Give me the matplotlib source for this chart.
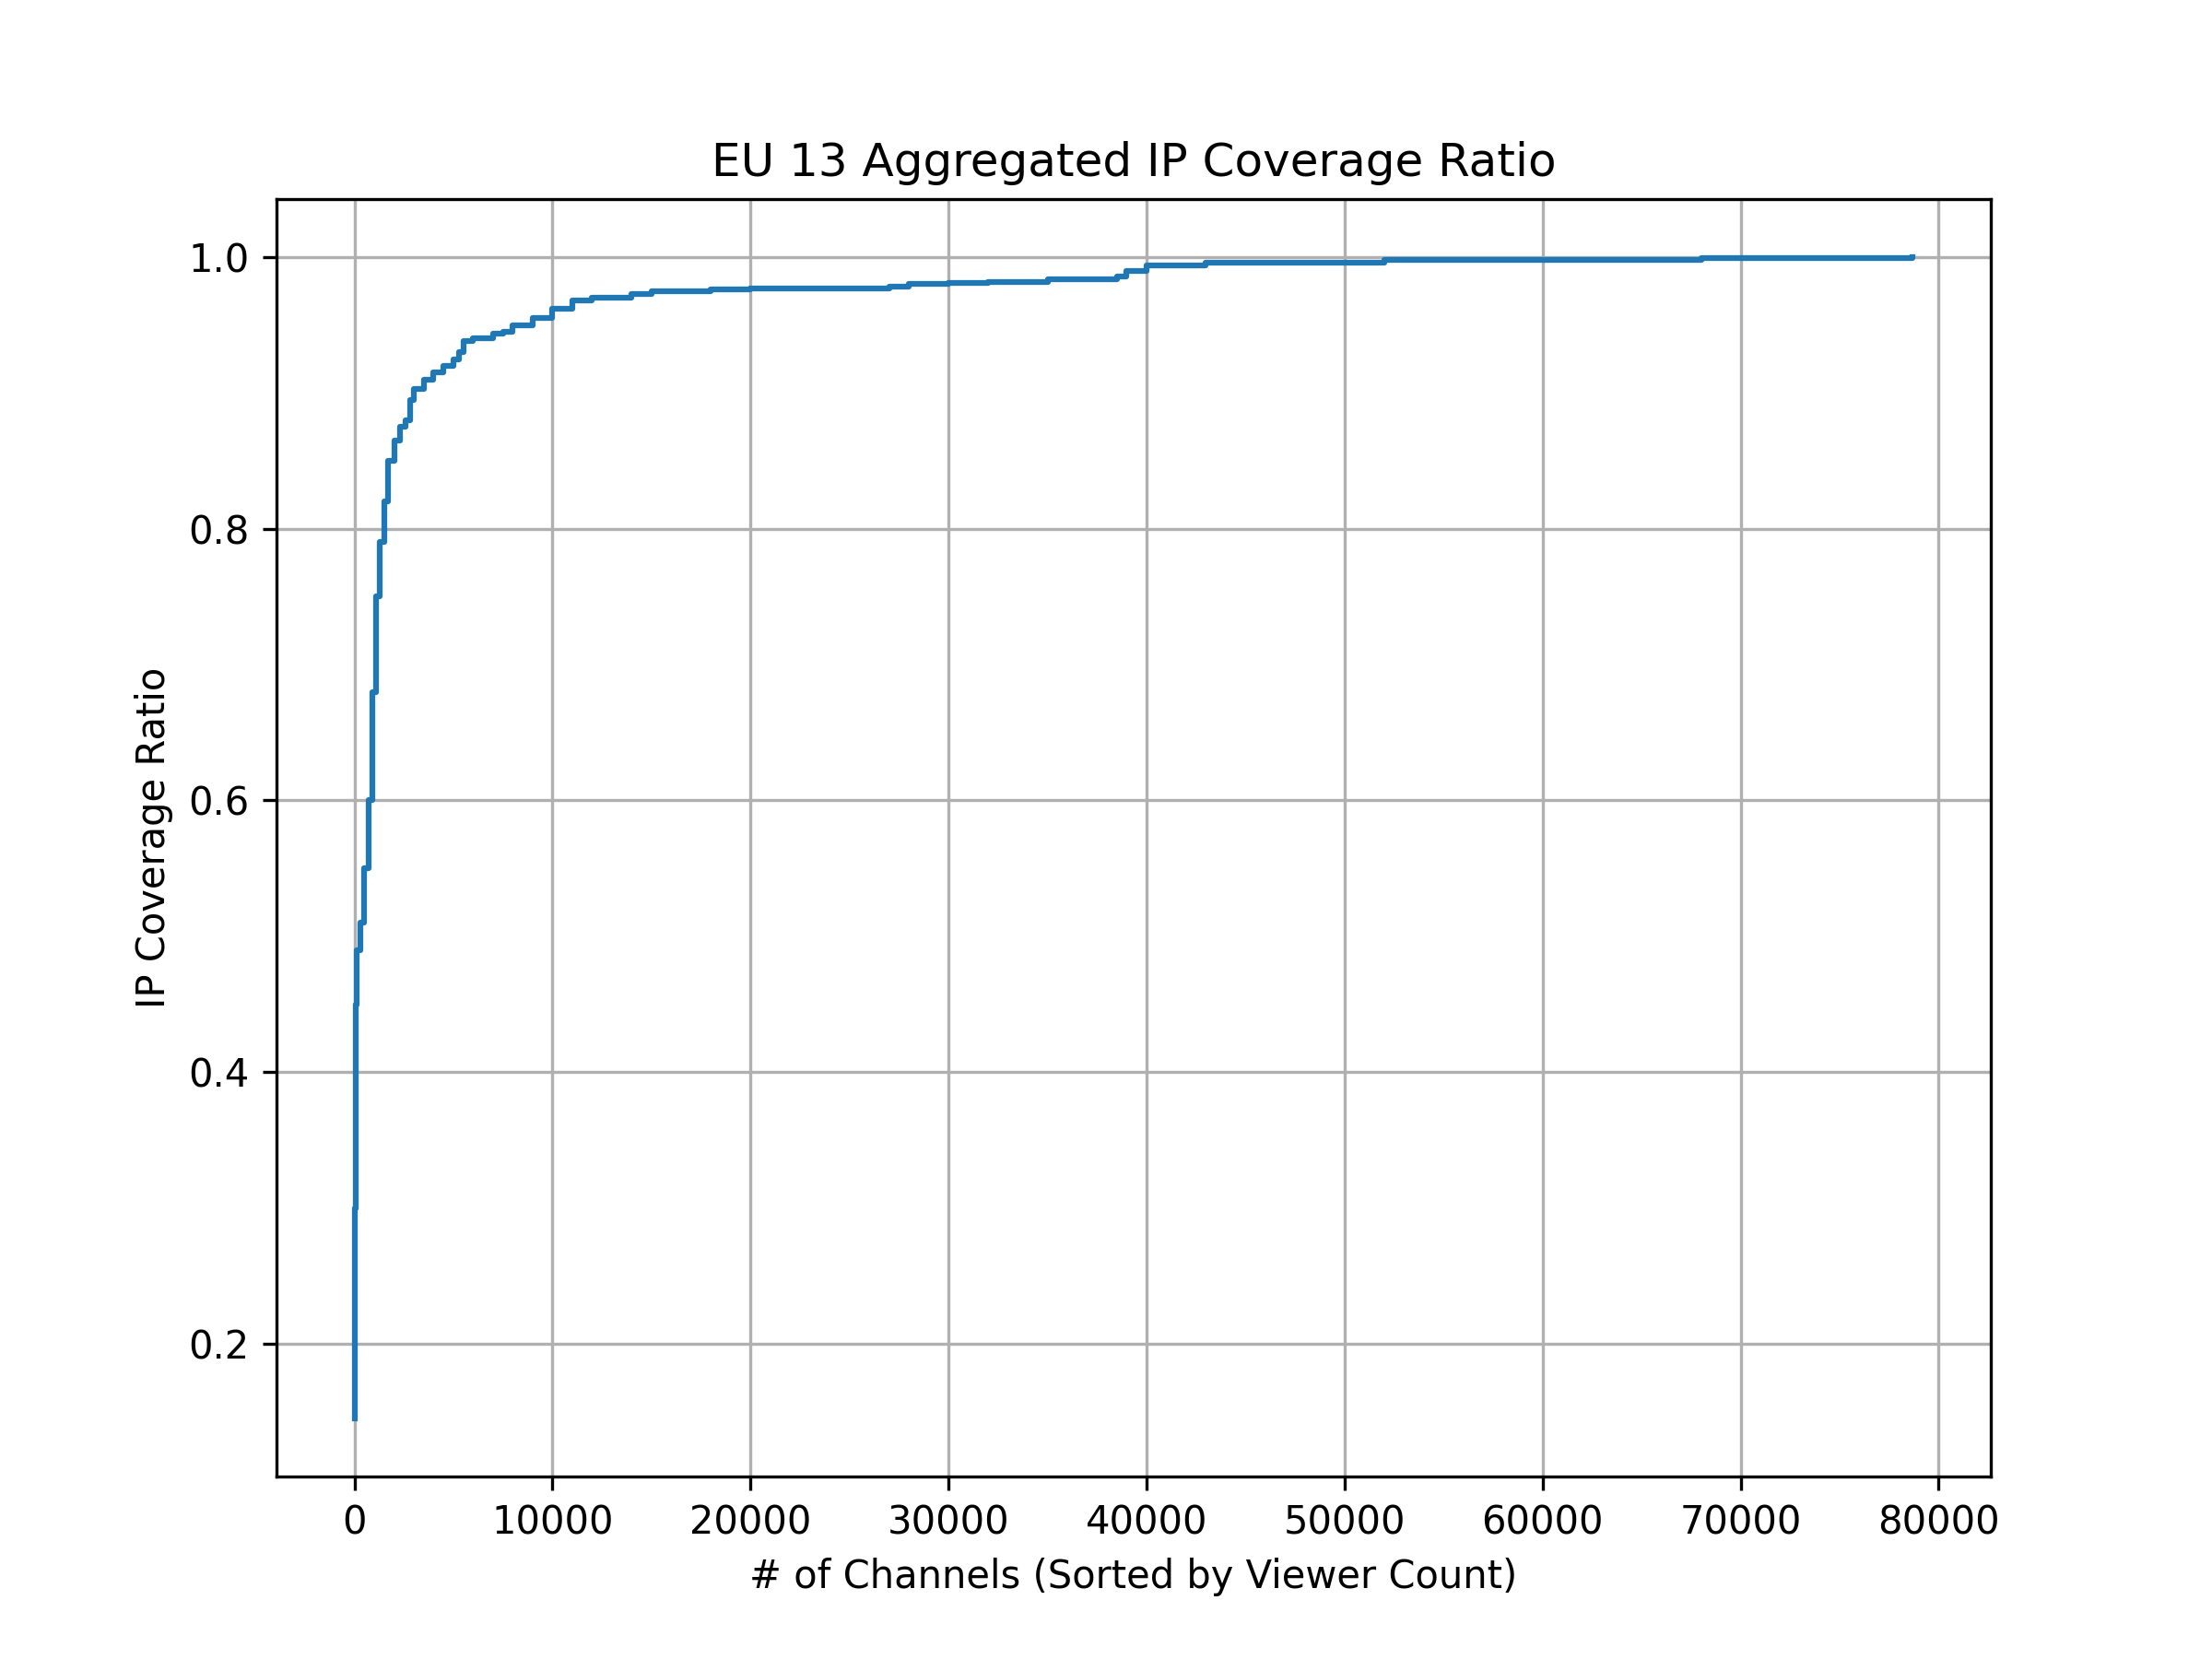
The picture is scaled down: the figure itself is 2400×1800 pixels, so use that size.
import matplotlib
matplotlib.use("Agg")
import matplotlib.pyplot as plt

channels = [0, 30, 60, 100, 300, 500, 700, 900, 1100, 1300, 1500, 1700, 2000, 2300,
            2600, 2800, 3000, 3500, 4000, 4500, 5000, 5300, 5500, 6000, 7000, 7500,
            8000, 9000, 10000, 11000, 12000, 14000, 15000, 18000, 20000, 27000, 28000,
            30000, 32000, 35000, 38500, 39000, 40000, 43000, 52000, 68000, 75000, 78700]
coverage = [0.145, 0.30, 0.45, 0.49, 0.51, 0.55, 0.60, 0.68, 0.75, 0.79, 0.82, 0.85,
            0.865, 0.875, 0.88, 0.895, 0.903, 0.91, 0.915, 0.92, 0.925, 0.93, 0.938,
            0.94, 0.944, 0.945, 0.95, 0.955, 0.962, 0.968, 0.970, 0.973, 0.975, 0.976,
            0.977, 0.978, 0.980, 0.981, 0.982, 0.984, 0.986, 0.990, 0.994, 0.996,
            0.998, 0.999, 0.9995, 1.0]

fig, ax = plt.subplots(figsize=(8, 6))
ax.plot(channels, coverage, drawstyle='steps-post')
ax.set_title('EU 13 Aggregated IP Coverage Ratio')
ax.set_xlabel('# of Channels (Sorted by Viewer Count)')
ax.set_ylabel('IP Coverage Ratio')
ax.grid(True)
plt.savefig('out.png', dpi=300)
